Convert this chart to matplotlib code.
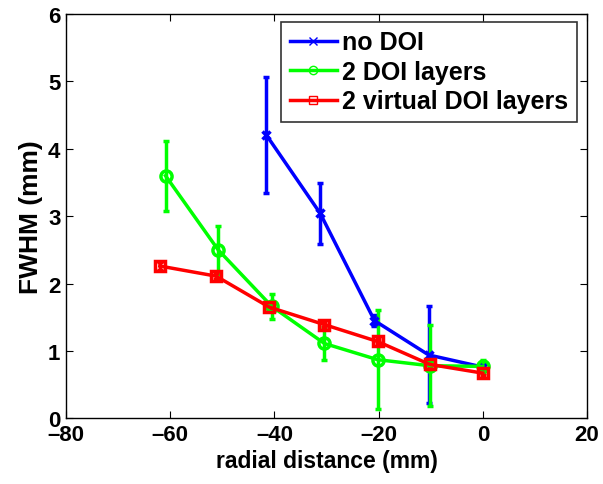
import matplotlib
matplotlib.use("Agg")
import matplotlib.pyplot as plt
from matplotlib.lines import Line2D

plt.rcParams['font.family'] = ['Liberation Sans', 'DejaVu Sans']
plt.rcParams['font.weight'] = 'bold'

# Data
x_nodoi = [-41.6, -31.2, -20.8, -10.4, 0.0]
y_nodoi = [4.21, 3.04, 1.45, 0.94, 0.76]
e_nodoi = [0.86, 0.45, 0.08, 0.72, 0.05]

x_doi2 = [-60.9, -50.8, -40.5, -30.4, -20.2, -10.2, 0.0]
y_doi2 = [3.60, 2.50, 1.66, 1.11, 0.87, 0.78, 0.77]
e_doi2 = [0.52, 0.36, 0.19, 0.25, 0.73, 0.60, 0.10]

x_virt = [-62.0, -51.2, -41.0, -30.4, -20.2, -10.2, 0.0]
y_virt = [2.26, 2.11, 1.65, 1.39, 1.14, 0.80, 0.67]
e_virt = [0.06, 0.05, 0.04, 0.03, 0.03, 0.04, 0.03]

labels = ['no DOI', '2 DOI layers', '2 virtual DOI layers']
colors = ['#0000ff', '#00ff00', '#ff0000']
markers = ['x', 'o', 's']

xticks = [-80, -60, -40, -20, 0, 20]
yticks = [0, 1, 2, 3, 4, 5, 6]

fig = plt.figure(figsize=(6.03, 4.85), dpi=100)
ax = fig.add_axes([0.1095, 0.1355, 0.864, 0.8335])

series = [(x_nodoi, y_nodoi, e_nodoi), (x_doi2, y_doi2, e_doi2), (x_virt, y_virt, e_virt)]
msizes = [6, 8, 7]
handles = []
for (xs, ys, es), c, m, ms, lab in zip(series, colors, markers, msizes, labels):
    ax.errorbar(xs, ys, yerr=es, color=c, lw=2.5, marker=m, ms=ms,
                mfc='none', mec=c, mew=2.5, capsize=2.5, capthick=2.5,
                elinewidth=2.5)
    handles.append(Line2D([0], [0], color=c, lw=2.5, marker=m, ms=6,
                          mfc='none', mec=c, mew=1.0, label=lab))

ax.set_xlim(-80, 20)
ax.set_ylim(0, 6)
ax.set_xticks(xticks)
ax.set_yticks(yticks)
ax.set_xticklabels([str(t).replace('-', '\u2013') for t in xticks])
ax.tick_params(direction='in', length=5, width=0.8, top=True, right=True,
               labelsize=16, pad=4)
for s in ax.spines.values():
    s.set_linewidth(1.0)

ax.set_xlabel('radial distance (mm)', fontsize=16.5, fontweight='bold', labelpad=3)
ax.set_ylabel('FWHM (mm)', fontsize=19, fontweight='bold', labelpad=4)

leg = ax.legend(handles=handles, loc='upper right', fontsize=18,
                frameon=True, fancybox=False, edgecolor='black',
                handlelength=1.9, handletextpad=0.2, borderpad=0.35,
                labelspacing=0.22, borderaxespad=0,
                bbox_to_anchor=(0.981, 0.981))
leg.get_frame().set_linewidth(1.2)
for t in leg.get_texts():
    t.set_fontweight('bold')

fig.savefig('out.png', dpi=100)
